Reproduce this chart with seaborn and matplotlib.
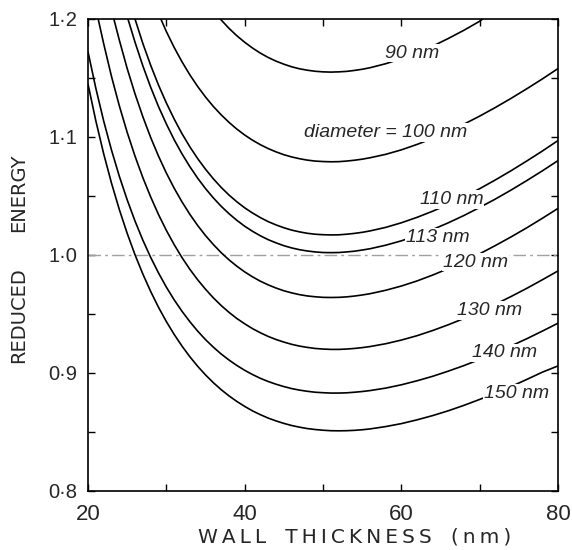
import pandas as pd
import matplotlib
matplotlib.use('Agg')
import matplotlib.pyplot as plt
import seaborn as sns

# sample positions along the wall-thickness axis (nm)
fine = list(range(20, 57)) + list(range(58, 81, 2))

# reduced energy
t90 = [36.9] + fine[17:44] + [70.4]
e90 = [1.2000, 1.1992, 1.1921, 1.1858, 1.1803, 1.1754, 1.1711, 1.1674, 1.1643,
       1.1617, 1.1595, 1.1578, 1.1566, 1.1557, 1.1552, 1.1550, 1.1552, 1.1556,
       1.1564, 1.1574, 1.1587, 1.1621, 1.1663, 1.1713, 1.1770, 1.1835, 1.1905,
       1.1981, 1.2000]

t100 = [29.3] + fine[10:]
e100 = [1.2000, 1.1894, 1.1759, 1.1637, 1.1527, 1.1428, 1.1339, 1.1259, 1.1188,
        1.1124, 1.1067, 1.1017, 1.0973, 1.0935, 1.0902, 1.0874, 1.0850, 1.0831,
        1.0816, 1.0804, 1.0796, 1.0792, 1.0790, 1.0791, 1.0796, 1.0803, 1.0812,
        1.0824, 1.0853, 1.0891, 1.0937, 1.0988, 1.1046, 1.1109, 1.1177, 1.1250,
        1.1327, 1.1408, 1.1492, 1.1580]

t110 = fine[6:]
e110 = [1.2000, 1.1793, 1.1608, 1.1440, 1.1289, 1.1152, 1.1028, 1.0917, 1.0817,
        1.0727, 1.0646, 1.0573, 1.0508, 1.0451, 1.0400, 1.0356, 1.0317, 1.0283,
        1.0255, 1.0231, 1.0211, 1.0196, 1.0184, 1.0176, 1.0172, 1.0170, 1.0171,
        1.0176, 1.0183, 1.0192, 1.0204, 1.0234, 1.0273, 1.0319, 1.0371, 1.0429,
        1.0493, 1.0562, 1.0636, 1.0714, 1.0796, 1.0881, 1.0970]

t113 = [25.1] + fine[6:]
e113 = [1.2000, 1.1804, 1.1603, 1.1422, 1.1258, 1.1111, 1.0977, 1.0857, 1.0749,
        1.0651, 1.0563, 1.0484, 1.0413, 1.0350, 1.0294, 1.0244, 1.0201, 1.0163,
        1.0130, 1.0103, 1.0079, 1.0060, 1.0045, 1.0034, 1.0026, 1.0021, 1.0020,
        1.0021, 1.0026, 1.0032, 1.0042, 1.0053, 1.0083, 1.0120, 1.0165, 1.0216,
        1.0273, 1.0335, 1.0403, 1.0474, 1.0550, 1.0630, 1.0713, 1.0800]

t120 = [23.3] + fine[4:]
e120 = [1.2000, 1.1821, 1.1581, 1.1366, 1.1172, 1.0996, 1.0838, 1.0695, 1.0566,
        1.0450, 1.0345, 1.0250, 1.0165, 1.0089, 1.0020, 0.9959, 0.9905, 0.9857,
        0.9815, 0.9778, 0.9747, 0.9720, 0.9697, 0.9679, 0.9664, 0.9653, 0.9646,
        0.9641, 0.9640, 0.9641, 0.9645, 0.9652, 0.9661, 0.9672, 0.9701, 0.9737,
        0.9780, 0.9830, 0.9885, 0.9945, 1.0010, 1.0080, 1.0153, 1.0230, 1.0311,
        1.0395]

t130 = [21.3] + fine[2:]
e130 = [1.2000, 1.1791, 1.1513, 1.1264, 1.1040, 1.0838, 1.0656, 1.0492, 1.0343,
        1.0209, 1.0088, 0.9978, 0.9879, 0.9790, 0.9710, 0.9637, 0.9572, 0.9514,
        0.9462, 0.9417, 0.9376, 0.9341, 0.9310, 0.9284, 0.9262, 0.9243, 0.9228,
        0.9217, 0.9208, 0.9203, 0.9200, 0.9200, 0.9203, 0.9208, 0.9215, 0.9224,
        0.9248, 0.9279, 0.9316, 0.9360, 0.9409, 0.9462, 0.9520, 0.9582, 0.9648,
        0.9717, 0.9790, 0.9865]

t140 = fine
e140 = [1.1722, 1.1413, 1.1136, 1.0889, 1.0667, 1.0468, 1.0288, 1.0126, 0.9980,
        0.9848, 0.9728, 0.9620, 0.9523, 0.9435, 0.9355, 0.9283, 0.9219, 0.9161,
        0.9110, 0.9064, 0.9023, 0.8987, 0.8955, 0.8928, 0.8905, 0.8885, 0.8868,
        0.8855, 0.8845, 0.8837, 0.8833, 0.8830, 0.8830, 0.8832, 0.8837, 0.8843,
        0.8851, 0.8872, 0.8900, 0.8934, 0.8972, 0.9016, 0.9063, 0.9115, 0.9170,
        0.9229, 0.9290, 0.9355, 0.9422]

t150 = fine
e150 = [1.1449, 1.1137, 1.0858, 1.0609, 1.0385, 1.0184, 1.0002, 0.9839, 0.9691,
        0.9557, 0.9436, 0.9327, 0.9228, 0.9138, 0.9057, 0.8984, 0.8918, 0.8859,
        0.8806, 0.8759, 0.8717, 0.8679, 0.8647, 0.8618, 0.8594, 0.8573, 0.8555,
        0.8541, 0.8529, 0.8521, 0.8515, 0.8511, 0.8510, 0.8511, 0.8514, 0.8519,
        0.8526, 0.8546, 0.8571, 0.8603, 0.8639, 0.8680, 0.8726, 0.8776, 0.8829,
        0.8885, 0.8945, 0.9007, 0.9060]

curves = {90: (t90, e90), 100: (t100, e100), 110: (t110, e110), 113: (t113, e113),
          120: (t120, e120), 130: (t130, e130), 140: (t140, e140), 150: (t150, e150)}

label_text = ['90 nm', 'diameter = 100 nm', '110 nm', '113 nm', '120 nm',
              '130 nm', '140 nm', '150 nm']
label_x = [61.4, 58.0, 66.4, 64.6, 69.5, 71.3, 73.2, 74.7]
label_y = [1.171, 1.104, 1.047, 1.015, 0.994, 0.953, 0.917, 0.883]

xticks = [20, 40, 60, 80]
yticks = [0.8, 0.9, 1.0, 1.1, 1.2]
ytick_labels = ['0·8', '0·9', '1·0', '1·1', '1·2']

rows = []
for d, (t, e) in curves.items():
    for a, b in zip(t, e):
        rows.append({'diameter': d, 'thickness': a, 'energy': b})
df = pd.DataFrame(rows)

sns.set_style('ticks')
plt.rcParams['font.family'] = ['Liberation Sans', 'DejaVu Sans']

fig = plt.figure(figsize=(5.72, 5.5), dpi=100)
ax = fig.add_axes([88 / 572, 1 - 491 / 550, 470 / 572, 472 / 550])

ax.axhline(1.0, color='#a0a0a0', lw=1.0, dashes=(9, 3, 2, 3), zorder=1)

sns.lineplot(data=df, x='thickness', y='energy', hue='diameter', units='diameter',
             estimator=None, sort=False, palette={d: 'black' for d in curves},
             legend=False, lw=1.2, ax=ax, zorder=2)

for s, x, y in zip(label_text, label_x, label_y):
    ax.text(x, y, s, ha='center', va='center', style='italic', fontsize=14,
            zorder=5, bbox=dict(facecolor='white', edgecolor='none', pad=0.5))

ax.set_xlim(20, 80)
ax.set_ylim(0.8, 1.2)
ax.set_xticks(xticks)
ax.set_xticklabels([str(v) for v in xticks], fontsize=16)
ax.set_xticks([30, 50, 70], minor=True)
ax.set_yticks(yticks)
ax.set_yticklabels(ytick_labels, fontsize=14.5)
ax.set_yticks([0.85, 0.95, 1.05, 1.15], minor=True)
ax.tick_params(which='both', direction='in', top=True, right=True, length=5,
               width=1, color='black')
ax.tick_params(axis='x', which='major', pad=9)
ax.tick_params(axis='y', which='major', pad=8)
ax.set_xlabel('')
ax.set_ylabel('')
for sp in ax.spines.values():
    sp.set_linewidth(1.2)
    sp.set_color('black')

ts = '\u2009'
xlab = '   '.join(ts.join(w) for w in ['WALL', 'THICKNESS', '(nm)'])
fig.text(355 / 572, 1 - 537 / 550, xlab, ha='center', va='center',
         fontsize=14.5, family='DejaVu Sans')
fig.text(19 / 572, 1 - 193 / 550, 'ENERGY', rotation=90, ha='center',
         va='center', fontsize=14, family='DejaVu Sans')
fig.text(19 / 572, 1 - 315 / 550, 'REDUCED', rotation=90, ha='center',
         va='center', fontsize=14, family='DejaVu Sans')

fig.savefig('out.png', dpi=100, facecolor='white')
